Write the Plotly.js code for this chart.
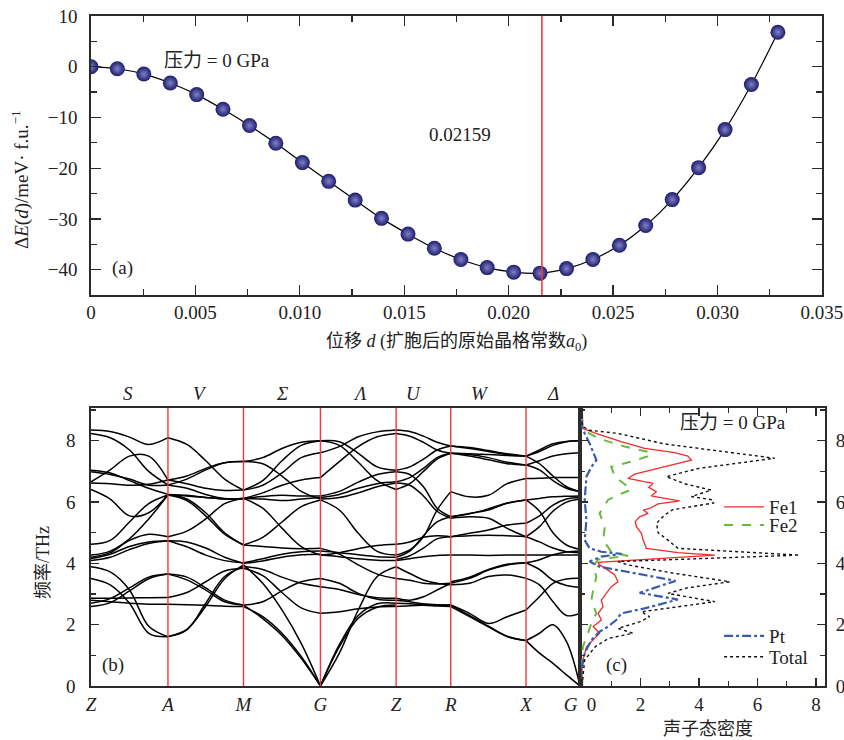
<!DOCTYPE html>
<html>
<head>
<meta charset="utf-8">
<script src="https://cdn.plot.ly/plotly-3.0.1.min.js"></script>
<style>
  html, body { margin: 0; padding: 0; background: #ffffff; }
  #chart { width: 844px; height: 740px; }
</style>
</head>
<body>
<div id="chart"></div>
<script>
// ---------- (a) energy versus displacement ----------
const dispD = [0, 0.00126, 0.00253, 0.00380, 0.00506, 0.00632, 0.00759, 0.00885, 0.01012,
  0.01138, 0.01265, 0.01391, 0.01518, 0.01644, 0.01771, 0.01897, 0.02024, 0.02150, 0.02277,
  0.02403, 0.02530, 0.02656, 0.02783, 0.02909, 0.03036, 0.03162, 0.03289];
const deltaE = [0.0, -0.4, -1.45, -3.2, -5.5, -8.4, -11.6, -15.1, -18.9, -22.6, -26.3, -29.9,
  -33.0, -35.8, -38.0, -39.6, -40.5, -40.7, -39.8, -38.0, -35.2, -31.3, -26.2, -19.9, -12.4,
  -3.5, 6.8];
const eqDisp = 0.02159;
const dTickVals = [0, 0.005, 0.010, 0.015, 0.020, 0.025, 0.030, 0.035];
const dTickText = ['0', '0.005', '0.010', '0.015', '0.020', '0.025', '0.030', '0.035'];

// ---------- (b) phonon dispersion ----------
const kNodes = [0, 0.1574, 0.3119, 0.4692, 0.6240, 0.7357, 0.8896, 1.0];
const kLabels = ['Z', 'A', 'M', 'G', 'Z', 'R', 'X', 'G'];
const lineLabels = ['S', 'V', 'Σ', 'Λ', 'U', 'W', 'Δ'];
const lineLabelK = [0.0762, 0.2228, 0.3897, 0.5498, 0.6587, 0.7950, 0.9442];

// frequencies (THz) of each branch at 0, 1/4, 1/2, 3/4 and the end of every path segment
const segZA = [
  [8.35, 8.30, 8.12, 7.88, 8.10], [8.24, 8.10, 7.70, 7.00, 6.56], [6.66, 7.05, 7.50, 7.50, 6.72],
  [7.04, 6.95, 6.70, 6.45, 6.25], [6.99, 6.90, 6.75, 6.55, 6.56], [6.62, 6.60, 6.55, 6.58, 6.72],
  [6.41, 6.10, 5.55, 5.65, 6.25], [4.62, 4.75, 5.35, 5.95, 6.23], [4.27, 4.40, 4.80, 5.45, 6.23],
  [4.20, 4.35, 4.75, 4.95, 4.87], [4.16, 4.30, 4.55, 4.70, 4.74], [4.09, 4.20, 4.45, 4.65, 4.74],
  [3.89, 3.72, 3.13, 1.95, 1.61], [3.51, 3.30, 2.70, 1.72, 1.61], [2.86, 2.86, 2.87, 2.88, 2.89],
  [2.80, 2.75, 2.70, 2.67, 2.67], [2.70, 2.85, 3.20, 3.55, 3.65], [2.59, 2.72, 3.10, 3.50, 3.65]
];
const segAM = [
  [8.10, 7.88, 7.35, 6.75, 6.39], [6.56, 6.75, 7.05, 7.28, 7.32], [6.72, 6.85, 7.10, 7.28, 7.32],
  [6.25, 6.22, 6.15, 6.10, 6.12], [6.56, 6.45, 6.25, 6.12, 6.12], [6.72, 6.60, 6.45, 6.38, 6.39],
  [6.25, 6.10, 5.65, 5.00, 4.60], [6.23, 6.05, 5.55, 4.95, 4.60], [6.23, 6.20, 6.15, 6.10, 6.12],
  [4.87, 5.05, 5.45, 5.95, 6.12], [4.74, 4.54, 4.27, 4.09, 4.02], [4.74, 4.70, 4.50, 4.20, 4.00],
  [1.61, 1.83, 2.70, 3.57, 3.89], [1.61, 1.85, 2.60, 3.50, 3.95], [2.89, 3.05, 3.40, 3.75, 3.84],
  [2.67, 2.65, 2.63, 2.60, 2.59], [3.65, 3.46, 3.13, 2.75, 2.64], [3.65, 3.55, 3.20, 2.80, 2.64]
];
const segMG = [
  [6.39, 6.70, 7.35, 7.85, 8.00], [7.32, 7.45, 7.75, 7.95, 8.00], [7.32, 7.25, 6.85, 6.35, 6.10],
  [6.12, 6.30, 6.55, 6.72, 6.80], [6.12, 6.10, 6.05, 6.10, 6.15], [6.39, 6.55, 6.95, 7.45, 7.61],
  [4.60, 4.85, 5.35, 5.85, 6.07], [4.60, 4.55, 4.50, 4.48, 4.49], [6.12, 6.18, 6.22, 6.20, 6.20],
  [6.12, 5.80, 5.15, 4.55, 4.27], [4.02, 4.15, 4.30, 4.38, 4.40], [4.00, 4.08, 4.20, 4.28, 4.30],
  [3.95, 3.35, 2.48, 1.39, 0.00], [3.90, 3.80, 3.55, 3.35, 3.24], [3.84, 3.60, 3.05, 2.55, 2.37],
  [2.59, 2.26, 1.72, 0.96, 0.00], [2.64, 2.20, 1.65, 0.90, 0.00], [2.64, 2.75, 3.10, 3.40, 3.51]
];
const segGZ = [
  [8.00, 7.97, 7.59, 7.15, 7.04], [8.00, 7.85, 7.30, 6.70, 6.41], [6.10, 6.15, 6.30, 6.50, 6.62],
  [6.80, 7.32, 7.81, 8.13, 8.24], [6.15, 6.25, 6.45, 6.60, 6.66], [7.61, 7.81, 8.13, 8.29, 8.35],
  [6.07, 5.74, 4.98, 4.39, 4.27], [4.27, 4.35, 4.48, 4.58, 4.62], [6.20, 6.35, 6.65, 6.90, 6.99],
  [4.27, 4.22, 4.15, 4.10, 4.09], [4.40, 4.35, 4.28, 4.22, 4.20], [4.49, 4.30, 3.95, 3.65, 3.51],
  [0.00, 1.07, 2.48, 3.57, 3.89], [3.24, 3.15, 2.98, 2.88, 2.86], [2.37, 2.42, 2.52, 2.58, 2.59],
  [0.00, 1.28, 2.21, 2.57, 2.64], [0.00, 1.35, 2.30, 2.68, 2.70], [3.51, 3.35, 3.02, 2.83, 2.80]
];
const segZR = [
  [8.35, 8.30, 8.15, 7.95, 7.83], [8.24, 8.15, 7.95, 7.70, 7.59], [7.04, 7.15, 7.40, 7.70, 7.83],
  [6.99, 6.90, 6.50, 5.80, 5.52], [6.66, 6.80, 7.10, 7.45, 7.59], [6.62, 6.55, 6.20, 5.70, 5.47],
  [6.41, 6.60, 7.00, 7.40, 7.59], [4.62, 4.70, 4.85, 4.90, 4.87], [4.27, 4.44, 4.87, 5.74, 6.34],
  [4.20, 4.40, 4.90, 5.35, 5.52], [4.13, 4.25, 4.50, 4.80, 4.87], [4.09, 4.15, 4.22, 4.26, 4.27],
  [3.89, 3.67, 3.46, 3.35, 3.30], [3.51, 3.45, 3.35, 3.33, 3.35], [2.86, 2.80, 2.91, 3.13, 3.35],
  [2.80, 2.75, 2.68, 2.65, 2.64], [2.70, 2.68, 2.66, 2.64, 2.64], [2.59, 2.62, 2.63, 2.61, 2.59]
];
const segRX = [
  [7.83, 7.75, 7.65, 7.55, 7.50], [7.59, 7.55, 7.45, 7.30, 7.21], [7.83, 7.78, 7.68, 7.58, 7.50],
  [5.52, 5.63, 5.74, 5.96, 6.07], [7.59, 7.58, 7.55, 7.52, 7.50], [5.47, 5.52, 5.47, 5.14, 4.87],
  [7.59, 7.50, 7.38, 7.25, 7.21], [4.87, 4.98, 5.09, 5.25, 5.31], [6.34, 6.17, 6.22, 6.60, 6.77],
  [5.52, 5.62, 5.78, 5.97, 6.07], [4.87, 4.90, 4.92, 4.90, 4.87], [4.27, 4.27, 4.26, 4.27, 4.27],
  [3.35, 3.51, 3.78, 3.95, 4.02], [3.30, 3.35, 3.57, 3.62, 3.51], [3.40, 3.55, 3.80, 3.97, 4.02],
  [2.64, 2.37, 2.04, 2.26, 2.48], [2.64, 2.30, 1.95, 1.62, 1.48], [2.59, 2.26, 1.93, 1.61, 1.48]
];
const segXG = [
  [7.50, 7.70, 7.90, 7.98, 8.00], [7.50, 7.65, 7.85, 7.97, 8.00], [7.50, 7.25, 6.85, 6.50, 6.34],
  [7.21, 7.35, 7.50, 7.58, 7.61], [7.21, 7.05, 6.70, 6.45, 6.34], [6.77, 6.78, 6.80, 6.80, 6.80],
  [6.07, 6.12, 6.17, 6.19, 6.20], [6.07, 5.70, 5.00, 4.60, 4.46], [5.31, 5.55, 5.90, 6.10, 6.15],
  [4.87, 5.20, 5.70, 6.00, 6.10], [4.87, 4.70, 4.50, 4.38, 4.35], [4.27, 4.27, 4.27, 4.27, 4.27],
  [4.02, 4.12, 4.28, 4.37, 4.40], [4.02, 3.80, 3.45, 3.28, 3.22], [3.51, 3.30, 2.75, 2.30, 2.37],
  [2.48, 2.91, 3.35, 3.49, 3.51], [1.48, 1.72, 2.00, 1.45, 0.00], [1.48, 1.07, 0.74, 0.36, 0.00]
];
const pathSegments = [segZA, segAM, segMG, segGZ, segZR, segRX, segXG];

// ---------- (c) phonon density of states ----------
const fe1Freq = [0, 0.74, 1.28, 1.50, 1.72, 1.94, 2.15, 2.37, 2.59, 2.80, 3.02, 3.24, 3.40, 3.62,
  3.78, 3.95, 4.03, 4.13, 4.27, 4.35, 4.49, 4.76, 4.98, 5.20, 5.36, 5.52, 5.63, 5.74, 5.79, 5.94,
  6.04, 6.12, 6.20, 6.34, 6.48, 6.61, 6.77, 6.91, 7.15, 7.37, 7.50, 7.61, 7.75, 7.97, 8.22, 8.40, 9.08];
const fe1Dos = [0, 0.0, 0.15, 0.38, 0.60, 0.38, 0.66, 0.55, 0.72, 0.66, 0.83, 1.00, 1.23, 1.12,
  0.89, 0.60, 0.55, 2.14, 4.54, 3.28, 2.20, 2.09, 2.03, 1.86, 1.82, 1.97, 2.26, 2.09, 2.31, 2.60,
  3.34, 2.83, 2.37, 2.54, 2.28, 2.43, 1.57, 1.80, 2.83, 3.74, 3.62, 3.17, 2.14, 1.34, 0.55, 0.03, 0];
const fe2Freq = [0, 0.74, 1.28, 1.72, 2.04, 2.37, 2.80, 3.13, 3.57, 3.89, 4.13, 4.24, 4.38, 4.76,
  5.20, 5.63, 6.07, 6.23, 6.41, 6.83, 7.15, 7.32, 7.53, 7.64, 7.81, 8.08, 8.37, 9.08];
const fe2Dos = [0, 0, 0.03, 0.21, 0.32, 0.49, 0.32, 0.38, 0.49, 0.38, 0.55, 1.57, 1.00, 0.72,
  0.78, 0.60, 0.89, 1.23, 1.69, 1.12, 1.00, 1.69, 2.37, 2.26, 1.46, 0.55, 0, 0];
const ptFreq = [0, 0.63, 1.07, 1.50, 1.77, 1.94, 2.15, 2.37, 2.53, 2.72, 2.82, 3.04, 3.24, 3.43,
  3.62, 3.89, 4.06, 4.22, 4.31, 4.38, 4.49, 4.76, 5.41, 6.07, 6.83, 7.15, 7.37, 7.91, 8.24, 8.46, 9.08];
const ptDos = [0, 0, 0.09, 0.32, 0.60, 0.89, 1.17, 1.34, 2.14, 2.83, 3.28, 1.97, 2.60, 3.20,
  2.14, 0.60, 0.26, 0.66, 1.35, 0.66, 0.26, 0.09, 0.15, 0.09, 0.15, 0.32, 0.49, 0.26, 0.09, 0, 0];
const totFreq = [0, 0.85, 1.28, 1.55, 1.72, 1.88, 2.10, 2.26, 2.42, 2.75, 3.02, 3.20, 3.40, 3.70,
  3.95, 4.06, 4.27, 4.49, 4.76, 5.00, 5.31, 5.58, 5.75, 5.97, 6.07, 6.18, 6.39, 6.60, 6.83, 7.10,
  7.43, 7.64, 7.90, 8.24, 8.35, 8.50, 9.08];
const totDos = [0, 0.09, 0.45, 0.90, 1.74, 1.23, 2.00, 2.31, 2.03, 4.54, 2.94, 3.60, 5.05, 3.00,
  1.57, 1.23, 7.44, 3.28, 2.94, 2.60, 2.55, 2.83, 3.10, 4.50, 4.48, 3.74, 4.42, 3.50, 2.88, 4.00,
  6.59, 4.88, 2.80, 1.23, 0.20, 0, 0];
const dosTickVals = [0, 2, 4, 6, 8];

// ---------- styling ----------
const SERIF = "'Liberation Serif', 'Noto Sans CJK SC', serif";
const AXIS_COLOR = '#2b2b2b';
const RED = '#f23a3a';
const TEXT = '#222';
const tickFont = { family: SERIF, size: 19, color: TEXT };
const PAD = '\u2007\u2007';   // figure spaces, keep the shared G / 0 corner labels apart

// expand every segment's branch samples onto the k axis
const bandX = [], bandY = [];
pathSegments.forEach((seg, s) => {
  const k0 = kNodes[s], k1 = kNodes[s + 1];
  seg.forEach(branch => {
    branch.forEach((f, j) => {
      bandX.push(k0 + (k1 - k0) * j / (branch.length - 1));
      bandY.push(f);
    });
    bandX.push(null); bandY.push(null);
  });
});

const traces = [
  {
    x: dispD, y: deltaE, xaxis: 'x', yaxis: 'y', mode: 'lines+markers', showlegend: false,
    line: { color: '#000', width: 1.2, shape: 'spline', smoothing: 1 },
    marker: { size: 15, color: '#1c1c6c', line: { width: 0 },
              gradient: { type: 'radial', color: '#8080c8' } }
  },
  {
    x: bandX, y: bandY, xaxis: 'x2', yaxis: 'y2', mode: 'lines', showlegend: false,
    connectgaps: false, line: { color: '#000', width: 1.5, shape: 'spline', smoothing: 1 }
  },
  { x: fe1Dos, y: fe1Freq, xaxis: 'x3', yaxis: 'y3', mode: 'lines', name: 'Fe1', legend: 'legend',
    line: { color: '#f52a2a', width: 1.3 } },
  { x: fe2Dos, y: fe2Freq, xaxis: 'x3', yaxis: 'y3', mode: 'lines', name: 'Fe2', legend: 'legend2',
    line: { color: '#66bb3c', width: 2, dash: 'dash' } },
  { x: ptDos, y: ptFreq, xaxis: 'x3', yaxis: 'y3', mode: 'lines', name: 'Pt', legend: 'legend3',
    line: { color: '#3a5aab', width: 2.2, dash: 'dashdot' } },
  { x: totDos, y: totFreq, xaxis: 'x3', yaxis: 'y3', mode: 'lines', name: 'Total', legend: 'legend4',
    line: { color: '#111', width: 1.4, dash: 'dot' } }
];

const frame = {
  showline: true, linecolor: AXIS_COLOR, linewidth: 1.6, zeroline: false, showgrid: false,
  ticks: 'inside', tickcolor: AXIS_COLOR, tickwidth: 1.3, tickfont: tickFont
};

const shapes = [
  { type: 'line', xref: 'x', yref: 'y domain', x0: eqDisp, x1: eqDisp, y0: 0, y1: 1,
    line: { color: RED, width: 1.6 } }
];
kNodes.slice(1, -1).forEach(k => shapes.push({
  type: 'line', xref: 'x2', yref: 'y2 domain', x0: k, x1: k, y0: 0, y1: 1,
  line: { color: RED, width: 1.4 }
}));

function note(xref, yref, x, y, text, extra) {
  return Object.assign({
    xref: xref, yref: yref, x: x, y: y, text: text, showarrow: false,
    xanchor: 'center', yanchor: 'middle', font: { family: SERIF, size: 19, color: TEXT }
  }, extra || {});
}

const annotations = [
  note('x', 'y', 0.00602, 1.2, '压力 = 0 GPa'),
  note('x', 'y', 0.00153, -39.7, '(a)'),
  note('x', 'y', 0.01767, -13.3, String(eqDisp)),
  note('paper', 'paper', 0.0249, 0.7568, 'Δ<i>E</i>(<i>d</i>)/meV· f.u.<sup>−1</sup>', { textangle: -90 }),
  note('paper', 'paper', 0.5403, 0.5365, '位移 <i>d</i> (扩胞后的原始晶格常数<i>a</i><sub>0</sub>)',
       { font: { family: SERIF, size: 18, color: TEXT } }),
  note('x2', 'y2', 0.045, 0.7, '(b)'),
  note('paper', 'paper', 0.0509, 0.2405, '频率/THz',
       { textangle: -90, font: { family: SERIF, size: 18, color: TEXT } }),
  note('x3', 'y3', 1.19, 0.7, '(c)'),
  note('x3', 'y3', 5.16, 8.58, '压力 = 0 GPa'),
  note('paper', 'paper', 0.8389, 0.0155, '声子态密度', { font: { family: SERIF, size: 18, color: TEXT } })
];
lineLabels.forEach((lab, i) => annotations.push(
  note('x2', 'paper', lineLabelK[i], 0.4689, '<i>' + lab + '</i>')
));

const kTickText = kLabels.map((l, i) =>
  '<i>' + l + '</i>' + (i === kLabels.length - 1 ? PAD : ''));
const dosTickText = dosTickVals.map(v => (v === 0 ? PAD : '') + String(v));

function legendAt(y) {
  return {
    x: 0.852, y: y, xanchor: 'left', yanchor: 'middle', bgcolor: 'rgba(0,0,0,0)',
    font: { family: SERIF, size: 19, color: TEXT }, itemwidth: 40
  };
}

const layout = {
  width: 844, height: 740,
  margin: { l: 0, r: 0, t: 0, b: 0 },
  paper_bgcolor: '#fff', plot_bgcolor: '#fff',
  showlegend: true,
  xaxis: Object.assign({}, frame, {
    domain: [0.1078, 0.9739], range: [0, 0.035], anchor: 'y', mirror: 'allticks',
    tickmode: 'array', tickvals: dTickVals, ticktext: dTickText, ticklen: 10, ticklabelstandoff: 0,
    minor: { tickmode: 'linear', tick0: 0, dtick: 0.0025, ticks: 'inside', ticklen: 6,
             tickcolor: AXIS_COLOR, tickwidth: 1.3 }
  }),
  yaxis: Object.assign({}, frame, {
    domain: [0.6014, 0.9784], range: [-45, 10], anchor: 'x', mirror: 'allticks',
    tickmode: 'linear', tick0: 0, dtick: 10, ticklen: 10, ticklabelstandoff: 8,
    minor: { tickmode: 'linear', tick0: 0, dtick: 5, ticks: 'inside', ticklen: 6,
             tickcolor: AXIS_COLOR, tickwidth: 1.3 }
  }),
  xaxis2: Object.assign({}, frame, {
    domain: [0.1078, 0.6872], range: [0, 1], anchor: 'y2', mirror: true, ticks: '',
    tickmode: 'array', tickvals: kNodes, ticktext: kTickText, ticklabelstandoff: 1
  }),
  yaxis2: Object.assign({}, frame, {
    domain: [0.0730, 0.4491], range: [0, 9.08], anchor: 'x2', mirror: true,
    tickmode: 'linear', tick0: 0, dtick: 2, ticklen: 8, ticklabelstandoff: 10,
    minor: { tickmode: 'linear', tick0: 0, dtick: 1, ticks: 'inside', ticklen: 5,
             tickcolor: AXIS_COLOR, tickwidth: 1.3 }
  }),
  xaxis3: Object.assign({}, frame, {
    domain: [0.6872, 0.9778], range: [-0.07, 8.32], anchor: 'y3', mirror: 'allticks',
    tickmode: 'array', tickvals: dosTickVals, ticktext: dosTickText, ticklen: 8, ticklabelstandoff: 1,
    minor: { tickmode: 'linear', tick0: 0, dtick: 1, ticks: 'inside', ticklen: 5,
             tickcolor: AXIS_COLOR, tickwidth: 1.3 }
  }),
  yaxis3: Object.assign({}, frame, {
    domain: [0.0730, 0.4491], range: [0, 9.08], anchor: 'x3', side: 'right', mirror: 'allticks',
    tickmode: 'linear', tick0: 0, dtick: 2, ticklen: 8, ticklabelstandoff: 5,
    minor: { tickmode: 'linear', tick0: 0, dtick: 1, ticks: 'inside', ticklen: 5,
             tickcolor: AXIS_COLOR, tickwidth: 1.3 }
  }),
  legend: legendAt(0.3149),
  legend2: legendAt(0.2905),
  legend3: legendAt(0.1405),
  legend4: legendAt(0.1122),
  shapes: shapes,
  annotations: annotations
};

Plotly.newPlot('chart', traces, layout, { displayModeBar: false, staticPlot: true });
</script>
</body>
</html>
